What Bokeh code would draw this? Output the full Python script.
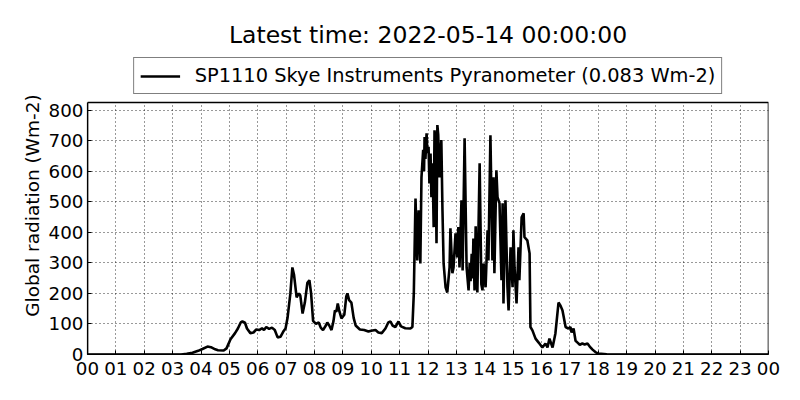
from bokeh.plotting import figure
from bokeh.models import Legend, LegendItem, FixedTicker, Range1d, BoxAnnotation, Title
from bokeh.embed import file_html
from bokeh.resources import INLINE

title_text = "Latest time: 2022-05-14 00:00:00"
legend_label = "SP1110 Skye Instruments Pyranometer (0.083 Wm-2)"
y_label = "Global radiation (Wm-2)"

x_ticks = list(range(25))
x_tick_labels = ["00", "01", "02", "03", "04", "05", "06", "07", "08", "09", "10", "11",
                 "12", "13", "14", "15", "16", "17", "18", "19", "20", "21", "22", "23", "00"]
y_ticks = [0, 100, 200, 300, 400, 500, 600, 700, 800]
y_axis_max = 825

hours = [0, 3.3, 3.5, 3.7, 3.9, 4.05, 4.23, 4.35, 4.5, 4.6, 4.8, 4.9, 5.04, 5.2, 5.3, 5.4, 5.46,
         5.55, 5.62, 5.74, 5.85, 5.95, 6.05, 6.15, 6.22, 6.3, 6.4, 6.5, 6.6, 6.7, 6.8, 6.9, 6.98,
         7.05, 7.15, 7.22, 7.28, 7.37, 7.45, 7.5, 7.58, 7.66, 7.75, 7.82, 7.88, 7.95, 8.05, 8.15,
         8.22, 8.3, 8.4, 8.45, 8.52, 8.6, 8.67, 8.72, 8.77, 8.82, 8.88, 8.95, 9.05, 9.12, 9.16,
         9.22, 9.3, 9.38, 9.45, 9.6, 9.75, 9.9, 10.0, 10.15, 10.25, 10.37, 10.5, 10.6, 10.68,
         10.75, 10.85, 10.96, 11.05, 11.2, 11.38, 11.45, 11.5, 11.56, 11.62, 11.67, 11.73, 11.77,
         11.83, 11.86, 11.88, 11.91, 11.95, 11.98, 12.02, 12.05, 12.09, 12.12, 12.16, 12.2, 12.23,
         12.26, 12.3, 12.33, 12.36, 12.4, 12.43, 12.47,
         12.51, 12.55, 12.62, 12.68, 12.76, 12.79, 12.86, 12.9, 12.97, 13.03, 13.07, 13.11, 13.18,
         13.22, 13.29, 13.36, 13.43, 13.47, 13.5, 13.54, 13.57, 13.6, 13.64, 13.68, 13.71, 13.74,
         13.82, 13.88, 13.92, 13.96, 14.03, 14.1,
         14.13, 14.2, 14.27, 14.31, 14.34, 14.41, 14.45, 14.52, 14.59, 14.63, 14.66, 14.73, 14.8,
         14.84, 14.91, 14.98, 15.01, 15.05, 15.12, 15.19, 15.22, 15.3, 15.37, 15.4, 15.5, 15.58,
         15.61, 15.68, 15.79, 15.9, 16.03, 16.14, 16.21, 16.28, 16.39, 16.49, 16.6, 16.67, 16.74,
         16.85, 16.95, 17.02, 17.06, 17.13, 17.2, 17.27, 17.35, 17.44, 17.52, 17.62, 17.7, 17.8,
         17.9, 18.0, 18.3, 18.6, 24]
radiation = [0, 0, 2, 6, 12, 18, 26, 24, 17, 14, 13, 20, 50, 70, 85, 105, 108,
             104, 85, 70, 72, 82, 80, 86, 80, 90, 84, 88, 80, 56, 58, 75, 85,
             120, 200, 285, 260, 187, 200, 193, 134, 170, 235, 243, 200, 110, 100, 105,
             88, 80, 95, 105, 95, 80, 110, 144, 140, 167, 140, 118, 130, 190, 200,
             178, 170, 120, 95, 82, 80, 75, 78, 80, 72, 70, 85, 105, 108,
             95, 90, 108, 92, 86, 85, 90, 200, 511, 308, 472, 298, 580,
             670, 600, 712, 640, 724, 660, 680, 560, 658, 515, 626, 417, 734,
             700, 364, 751, 720, 580, 650, 702,
             472, 298, 220, 203, 285, 413, 266, 285, 397, 318, 417, 285, 505,
             275, 708, 285, 210, 300, 240, 330, 249, 380, 210, 420, 260, 203,
             626, 230, 210, 298, 220, 407,
             308, 718, 308, 580, 266, 603, 515, 495, 243, 495, 167, 505, 220,
             144, 351, 220, 407, 285, 167, 351, 243, 449, 462, 384, 374, 331,
             90, 79, 52, 39, 23, 36, 23, 52, 23, 69, 170, 160, 144,
             90, 85, 90, 72, 85, 45, 39, 32, 36, 33, 36, 26, 16,
             8, 3, 1, 0, 0]

# frame extends upward to hold the legend; the plotting area itself ends at y_axis_max
frame_w, frame_h, plot_h = 681, 298, 252
y_top = y_axis_max * frame_h / plot_h

p = figure(frame_width=frame_w, frame_height=frame_h,
           x_range=Range1d(0, 24), y_range=Range1d(0, y_top),
           output_backend="svg", toolbar_location=None,
           min_border_left=87, min_border_right=16, min_border_bottom=30, min_border_top=56)

p.title.text = title_text
p.title.align = "center"
p.title.text_font = "DejaVu Sans"
p.title.text_font_size = "23.5px"
p.title.text_font_style = "normal"
p.title.text_color = "black"
p.title.standoff = 16

p.background_fill_color = "white"
p.border_fill_color = "white"
p.outline_line_color = None

for ax in (p.xaxis[0], p.yaxis[0]):
    ax.major_label_text_font = "DejaVu Sans"
    ax.major_label_text_font_size = "18.3px"
    ax.major_label_text_color = "black"
    ax.major_tick_in = 4
    ax.major_tick_out = 0
    ax.minor_tick_line_color = None
    ax.major_tick_line_color = "black"
    ax.major_label_standoff = 4
    ax.axis_line_color = "black"
    ax.axis_line_width = 1.2

p.yaxis.bounds = (0, y_axis_max)
p.xaxis.major_label_standoff = 7
p.xaxis.ticker = FixedTicker(ticks=x_ticks)
p.xaxis.major_label_overrides = {t: lab for t, lab in zip(x_ticks, x_tick_labels)}
p.yaxis.ticker = FixedTicker(ticks=y_ticks)

# y-axis label, centred on the 0..825 plotting area rather than on the extended frame
ylab = Title(text=y_label, align="center", offset=-18, standoff=6,
             text_font="DejaVu Sans", text_font_size="18.5px", text_font_style="normal",
             text_color="black")
p.add_layout(ylab, "left")

p.xgrid.ticker = FixedTicker(ticks=x_ticks)
p.ygrid.ticker = FixedTicker(ticks=y_ticks)
for g in (p.xgrid[0], p.ygrid[0]):
    g.grid_line_color = "black"
    g.grid_line_alpha = 0.8
    g.grid_line_dash = "1 3"
    g.grid_line_width = 1

r = p.line(hours, radiation, line_color="black", line_width=2.6)

mask = BoxAnnotation(bottom=y_axis_max, fill_color="white", fill_alpha=1.0, line_color=None)
p.add_layout(mask)
border = BoxAnnotation(bottom=0, top=y_axis_max, left=0, right=24, fill_alpha=0,
                       line_color="black", line_width=1.6, line_alpha=1.0)
p.add_layout(border)

legend = Legend(items=[LegendItem(label=legend_label, renderers=[r])],
                location="top_center", orientation="horizontal",
                label_text_font="DejaVu Sans", label_text_font_size="19.4px",
                label_text_color="black", padding=6, glyph_width=40, label_standoff=15,
                border_line_color="black", border_line_width=1.2,
                background_fill_alpha=1.0, margin=1)
p.add_layout(legend)

open("out.html", "w").write(file_html(p, INLINE))
